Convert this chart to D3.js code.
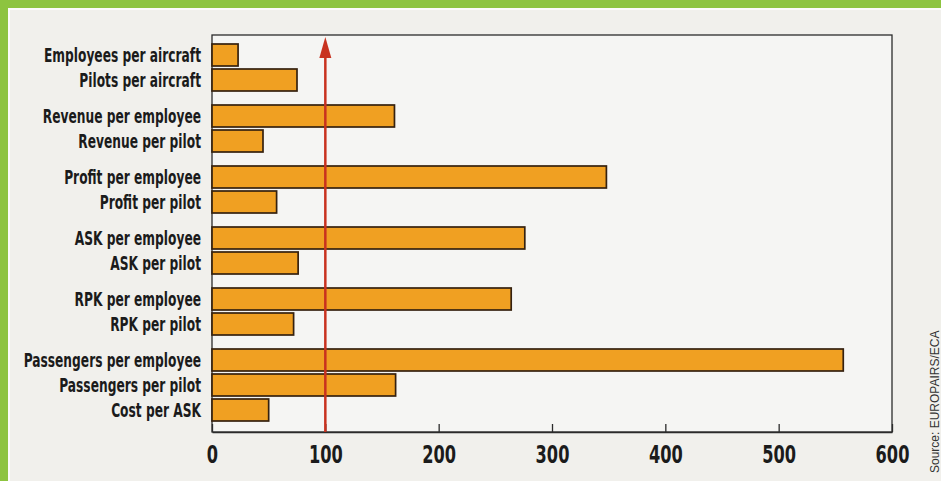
<!DOCTYPE html>
<html>
<head>
<meta charset="utf-8">
<script src="https://cdn.jsdelivr.net/npm/d3@7"></script>
<style>
  body { margin: 0; background: #f1f0ec; }
  svg { display: block; }
</style>
</head>
<body>
<div id="chart"></div>
<script>
//chart data
var categories = ["Employees per aircraft", "Pilots per aircraft",
    "Revenue per employee", "Revenue per pilot",
    "Profit per employee", "Profit per pilot",
    "ASK per employee", "ASK per pilot",
    "RPK per employee", "RPK per pilot",
    "Passengers per employee", "Passengers per pilot",
    "Cost per ASK"];
var values = [23, 75, 161, 45, 348, 57, 276, 76, 264, 72, 557, 162, 50];
var groups = [0, 0, 1, 1, 2, 2, 3, 3, 4, 4, 5, 5, 5];
var ticks = [0, 100, 200, 300, 400, 500, 600];
var reference = 100;
var source = "Source: EUROPAIRS/ECA";

//set the dimensions and margins of the graph
var W = 941, H = 481;
var margin = {top: 35, right: 49, bottom: 49, left: 212},
    width = W - margin.left - margin.right,
    height = H - margin.top - margin.bottom;

var labelFont = "'DejaVu Sans Condensed', 'DejaVu Sans', sans-serif";

var svg = d3.select("#chart").append("svg")
    .attr("width", W)
    .attr("height", H);

//page background and green frame
svg.append("rect").attr("width", W).attr("height", H).attr("fill", "#f1f0ec");
svg.append("rect").attr("x", 0).attr("y", 0).attr("width", W).attr("height", 8).attr("fill", "#8dc43f");
svg.append("rect").attr("x", 0).attr("y", 0).attr("width", 8).attr("height", H).attr("fill", "#8dc43f");
svg.append("rect").attr("x", 8).attr("y", 8).attr("width", W).attr("height", 2).attr("fill", "#fbfbf8");
svg.append("rect").attr("x", 8).attr("y", 8).attr("width", 2).attr("height", H).attr("fill", "#fbfbf8");

var g = svg.append("g")
    .attr("transform", "translate(" + margin.left + "," + margin.top + ")");

//slot position: one step per bar, extra gap between groups
var gap = 0.44, barH = 0.88;
var slots = categories.map(function(c, i) { return i + gap * groups[i]; });
var lastEnd = d3.max(slots) + barH;

var x = d3.scaleLinear().domain([0, 600]).range([0, width]);
var y = d3.scaleLinear().domain([-0.36, lastEnd + 0.44]).range([0, height]);

//plot area
g.append("rect")
    .attr("width", width)
    .attr("height", height)
    .attr("fill", "#f5f5f3")
    .attr("stroke", "#2b2b2b")
    .attr("stroke-width", 1.3);

//bars
g.append("g")
    .selectAll("rect")
    .data(values)
    .join("rect")
    .attr("x", x(0))
    .attr("y", function(d, i) { return y(slots[i]); })
    .attr("width", function(d) { return x(d) - x(0); })
    .attr("height", y(barH) - y(0))
    .attr("fill", "#f0a022")
    .attr("stroke", "#35210f")
    .attr("stroke-width", 1.7);

//category labels
g.append("g")
    .selectAll("text")
    .data(categories)
    .join("text")
    .attr("transform", function(d, i) {
        return "translate(-11," + y(slots[i] + barH / 2) + ") scale(0.68,1)";
    })
    .attr("dy", "0.35em")
    .attr("text-anchor", "end")
    .attr("font-family", labelFont)
    .attr("font-weight", "bold")
    .attr("font-size", 20)
    .attr("fill", "#1b1b1b")
    .text(function(d) { return d; });

//x axis
var axis = g.append("g")
    .attr("transform", "translate(0," + height + ")")
    .call(d3.axisBottom(x).tickValues(ticks).tickSizeInner(-8).tickSizeOuter(0).tickPadding(14));
axis.select(".domain").attr("stroke", "#2b2b2b").attr("stroke-width", 1.3);
axis.selectAll(".tick line").attr("stroke", "#2b2b2b").attr("stroke-width", 1.3);
axis.selectAll(".tick text")
    .attr("transform", "scale(0.75,1)")
    .attr("font-family", labelFont)
    .attr("font-weight", "bold")
    .attr("font-size", 24)
    .attr("fill", "#1b1b1b");

//reference line with arrow
g.append("line")
    .attr("x1", x(reference)).attr("x2", x(reference))
    .attr("y1", height).attr("y2", 12)
    .attr("stroke", "#c8321f")
    .attr("stroke-width", 2.5);
g.append("path")
    .attr("d", "M" + x(reference) + ",2 l-6,21 l12,0 z")
    .attr("fill", "#c8321f");

//source
svg.append("text")
    .attr("transform", "translate(939,473) rotate(-90)")
    .attr("font-family", "'Liberation Sans', sans-serif")
    .attr("font-size", 12)
    .attr("fill", "#333")
    .text(source);
</script>
</body>
</html>
